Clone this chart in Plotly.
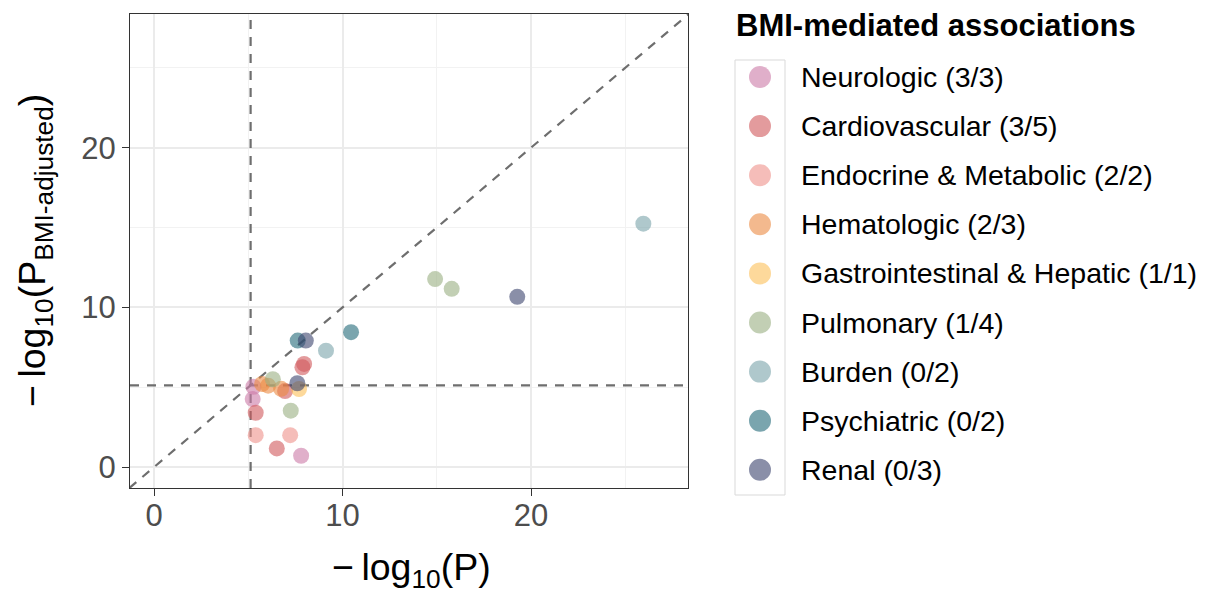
import plotly.graph_objects as go

# ---- data ----
categories = ["Neurologic (3/3)", "Cardiovascular (3/5)", "Endocrine & Metabolic (2/2)",
              "Hematologic (2/3)", "Gastrointestinal & Hepatic (1/1)", "Pulmonary (1/4)",
              "Burden (0/2)", "Psychiatric (0/2)", "Renal (0/3)"]
colors = ["#CC79A7", "#D0585C", "#EE918A", "#EB8A43", "#FCC058",
          "#99AF82", "#7AA3AA", "#216978", "#3C446E"]

neuro_x = [5.27, 5.23, 7.80]
neuro_y = [5.03, 4.26, 0.71]
cardio_x = [7.96, 7.87, 6.95, 5.39, 6.51]
cardio_y = [6.46, 6.25, 4.76, 3.40, 1.17]
endo_x = [5.39, 7.22]
endo_y = [2.00, 2.00]
hema_x = [5.73, 6.05, 6.74]
hema_y = [5.20, 5.10, 4.90]
gastro_x = [7.69]
gastro_y = [4.89]
pulm_x = [6.30, 7.25, 14.91, 15.79]
pulm_y = [5.50, 3.53, 11.77, 11.16]
burden_x = [9.12, 25.96]
burden_y = [7.29, 15.24]
psych_x = [7.62, 10.45]
psych_y = [7.92, 8.45]
renal_x = [8.05, 7.60, 19.27]
renal_y = [7.92, 5.25, 10.66]

xs = [neuro_x, cardio_x, endo_x, hema_x, gastro_x, pulm_x, burden_x, psych_x, renal_x]
ys = [neuro_y, cardio_y, endo_y, hema_y, gastro_y, pulm_y, burden_y, psych_y, renal_y]

threshold = 5.12
x_range = [-1.28, 28.33]
y_range = [-1.31, 28.37]
tick_vals = [0, 10, 20]
legend_title = "BMI-mediated associations"

FONT = "Liberation Sans, Arial, Helvetica, sans-serif"
OFF = 8  # page body margin of the html page
W, H = 1206 - OFF, 594 - OFF
ML, MT = 130 - OFF, 14 - OFF
PW, PH = 558, 474
MR, MB = W - ML - PW, H - MT - PH


def px_x(px):
    return (px - OFF - ML) / PW


def px_y(py):
    return (MT + PH - (py - OFF)) / PH


fig = go.Figure()
for i, (cat, col) in enumerate(zip(categories, colors)):
    fig.add_trace(go.Scatter(
        x=xs[i], y=ys[i], mode="markers", name=cat,
        marker=dict(size=16, color=col, opacity=0.6, line=dict(width=0)),
        showlegend=False, hoverinfo="x+y+name",
    ))

dash_style = dict(color="#6E6E6E", width=2.2, dash="9px,8px")
fig.add_shape(type="line", xref="x", yref="y", x0=threshold, x1=threshold,
              y0=y_range[0], y1=y_range[1], line=dash_style, layer="between")
fig.add_shape(type="line", xref="x", yref="y", x0=x_range[0], x1=x_range[1],
              y0=threshold, y1=threshold, line=dash_style, layer="between")
lo = min(x_range[0], y_range[0])
hi = max(x_range[1], y_range[1])
fig.add_shape(type="line", xref="x", yref="y", x0=lo, x1=hi, y0=lo, y1=hi,
              line=dash_style, layer="between")

# ---- legend (ggplot-style, drawn as shapes + text) ----
key_x, text_x, first_y, step = 760, 799, 77, 49.1
fig.add_shape(type="rect", xref="paper", yref="paper",
              x0=px_x(735), x1=px_x(785), y0=px_y(495), y1=px_y(60),
              line=dict(color="#D9D9D9", width=1), fillcolor="rgba(0,0,0,0)", layer="below")
fig.add_annotation(text="<b>" + legend_title + "</b>", xref="paper", yref="paper",
                   x=px_x(735), y=px_y(25), xanchor="left", yanchor="middle",
                   borderpad=0,
                   showarrow=False, font=dict(family=FONT, size=31, color="#000000"))
for i, (cat, col) in enumerate(zip(categories, colors)):
    cy = first_y + step * i
    fig.add_shape(type="circle", xref="paper", yref="paper",
                  xsizemode="pixel", ysizemode="pixel",
                  xanchor=px_x(key_x), yanchor=px_y(cy),
                  x0=-11, x1=11, y0=-11, y1=11,
                  fillcolor=col, opacity=0.6, line=dict(width=0), layer="above")
    fig.add_annotation(text=cat, xref="paper", yref="paper",
                       x=px_x(text_x), y=px_y(cy), xanchor="left", yanchor="middle",
                       showarrow=False, font=dict(family=FONT, size=28.5, color="#000000"))

axis_common = dict(
    showgrid=True, gridcolor="#EBEBEB", gridwidth=1.6,
    zeroline=False, showline=True, mirror=True, linecolor="#333333", linewidth=1.3,
    ticks="outside", ticklen=7, tickwidth=1.3, tickcolor="#333333",
    tickfont=dict(family=FONT, size=31, color="#4D4D4D"),
    tickvals=tick_vals,
    minor=dict(tickvals=[5, 15, 25], showgrid=True, gridcolor="#F2F2F2", gridwidth=1, ticks=""),
)
fig.update_xaxes(range=x_range, ticklabelstandoff=-7, **axis_common)
fig.update_yaxes(range=y_range, **axis_common)

fig.add_annotation(text="\u2212\u2009log<sub>10</sub>(P)", xref="paper", yref="paper",
                   x=px_x(411), y=px_y(570), xanchor="center", yanchor="middle",
                   showarrow=False, font=dict(family=FONT, size=37.5, color="#000000"))
fig.add_annotation(text="\u2212\u2009log<sub>10</sub>(P<sub>BMI-adjusted</sub>)", xref="paper", yref="paper",
                   x=px_x(35), y=px_y(251), xanchor="center", yanchor="middle",
                   textangle=-90,
                   showarrow=False, font=dict(family=FONT, size=37.5, color="#000000"))

fig.update_layout(
    width=W, height=H,
    margin=dict(l=ML, r=MR, t=MT, b=MB, autoexpand=False),
    plot_bgcolor="white", paper_bgcolor="white",
    font=dict(family=FONT, color="#000000"),
    showlegend=False,
)

fig.write_html("out.html")
